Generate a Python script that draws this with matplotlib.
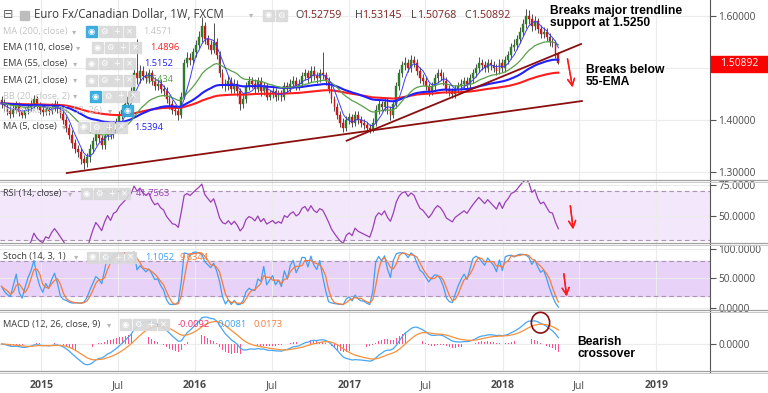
import numpy as np
import pandas as pd
import matplotlib
matplotlib.use('Agg')
import matplotlib.pyplot as plt
import matplotlib.dates as mdates
from matplotlib.patches import Rectangle, Ellipse
from matplotlib.lines import Line2D
from datetime import datetime

plt.rcParams['font.family'] = ['Open Sans', 'DejaVu Sans']

# weekly EUR/CAD candles (first open 1.438)
first_open = 1.438
closes = [
    1.432, 1.425, 1.418, 1.412, 1.420, 1.428, 1.415, 1.410, 1.418, 1.425,
    1.430, 1.440, 1.428, 1.420, 1.415, 1.422, 1.418, 1.425, 1.430, 1.422,
    1.412, 1.400, 1.385, 1.372, 1.355, 1.345, 1.338, 1.325, 1.318, 1.328,
    1.345, 1.360, 1.375, 1.365, 1.352, 1.370, 1.385, 1.372, 1.390, 1.395,
    1.410, 1.420, 1.430, 1.445, 1.455, 1.490, 1.480, 1.495, 1.485, 1.480,
    1.490, 1.475, 1.465, 1.470, 1.460, 1.455, 1.440, 1.430, 1.420, 1.418,
    1.410, 1.445, 1.510, 1.520, 1.515, 1.530, 1.545, 1.560, 1.580, 1.555,
    1.545, 1.535, 1.550, 1.525, 1.490, 1.470, 1.465, 1.475, 1.460, 1.470,
    1.455, 1.430, 1.440, 1.465, 1.475, 1.470, 1.460, 1.475, 1.455, 1.465,
    1.445, 1.450, 1.455, 1.445, 1.450, 1.445, 1.465, 1.460, 1.470, 1.475,
    1.465, 1.470, 1.485, 1.490, 1.480, 1.495, 1.485, 1.480, 1.490, 1.487,
    1.475, 1.460, 1.440, 1.425, 1.410, 1.395, 1.385, 1.400, 1.405, 1.395,
    1.410, 1.400, 1.395, 1.390, 1.385, 1.380, 1.395, 1.420, 1.430, 1.425,
    1.435, 1.420, 1.410, 1.430, 1.465, 1.490, 1.505, 1.510, 1.500, 1.515,
    1.510, 1.495, 1.480, 1.475, 1.465, 1.455, 1.465, 1.480, 1.490, 1.485,
    1.475, 1.460, 1.455, 1.450, 1.460, 1.465, 1.470, 1.475, 1.470, 1.480,
    1.490, 1.500, 1.510, 1.505, 1.500, 1.510, 1.505, 1.500, 1.495, 1.510,
    1.500, 1.515, 1.525, 1.540, 1.545, 1.555, 1.570, 1.585, 1.600, 1.595,
    1.580, 1.590, 1.575, 1.565, 1.570, 1.560, 1.550, 1.548, 1.5276, 1.50892,
]
highs = [
    1.446, 1.440, 1.433, 1.426, 1.428, 1.436, 1.434, 1.422, 1.425, 1.433,
    1.439, 1.449, 1.446, 1.434, 1.428, 1.431, 1.430, 1.433, 1.438, 1.437,
    1.428, 1.420, 1.407, 1.392, 1.380, 1.363, 1.352, 1.346, 1.333, 1.336,
    1.353, 1.368, 1.383, 1.382, 1.372, 1.378, 1.393, 1.392, 1.398, 1.404,
    1.418, 1.428, 1.438, 1.453, 1.464, 1.498, 1.555, 1.505, 1.503, 1.494,
    1.498, 1.497, 1.483, 1.478, 1.478, 1.468, 1.463, 1.448, 1.438, 1.428,
    1.425, 1.453, 1.518, 1.530, 1.528, 1.538, 1.553, 1.572, 1.598, 1.588,
    1.563, 1.553, 1.586, 1.557, 1.532, 1.498, 1.478, 1.484, 1.482, 1.478,
    1.477, 1.462, 1.448, 1.473, 1.484, 1.483, 1.478, 1.483, 1.482, 1.473,
    1.472, 1.458, 1.463, 1.462, 1.458, 1.457, 1.473, 1.474, 1.478, 1.484,
    1.483, 1.478, 1.493, 1.499, 1.497, 1.503, 1.503, 1.493, 1.498, 1.530,
    1.493, 1.482, 1.467, 1.447, 1.433, 1.417, 1.403, 1.408, 1.413, 1.412,
    1.418, 1.417, 1.407, 1.402, 1.397, 1.392, 1.403, 1.428, 1.438, 1.437,
    1.443, 1.442, 1.427, 1.438, 1.473, 1.498, 1.514, 1.522, 1.518, 1.525,
    1.523, 1.517, 1.502, 1.488, 1.483, 1.472, 1.473, 1.488, 1.499, 1.498,
    1.493, 1.482, 1.468, 1.462, 1.468, 1.473, 1.478, 1.483, 1.483, 1.488,
    1.498, 1.508, 1.522, 1.518, 1.513, 1.518, 1.518, 1.513, 1.508, 1.518,
    1.517, 1.523, 1.533, 1.548, 1.555, 1.563, 1.578, 1.595, 1.613, 1.611,
    1.603, 1.600, 1.597, 1.583, 1.578, 1.577, 1.568, 1.557, 1.553, 1.53145,
]
lows = [
    1.424, 1.417, 1.410, 1.404, 1.405, 1.413, 1.408, 1.403, 1.404, 1.412,
    1.418, 1.424, 1.421, 1.412, 1.407, 1.409, 1.410, 1.411, 1.418, 1.414,
    1.403, 1.392, 1.376, 1.364, 1.347, 1.336, 1.329, 1.316, 1.305, 1.310,
    1.320, 1.337, 1.352, 1.357, 1.344, 1.345, 1.362, 1.364, 1.365, 1.382,
    1.388, 1.402, 1.412, 1.422, 1.437, 1.448, 1.470, 1.472, 1.477, 1.471,
    1.472, 1.467, 1.457, 1.457, 1.452, 1.446, 1.432, 1.422, 1.412, 1.410,
    1.400, 1.403, 1.440, 1.502, 1.506, 1.508, 1.522, 1.538, 1.550, 1.547,
    1.536, 1.526, 1.528, 1.517, 1.482, 1.462, 1.456, 1.457, 1.452, 1.452,
    1.447, 1.420, 1.423, 1.433, 1.457, 1.462, 1.452, 1.453, 1.447, 1.448,
    1.438, 1.438, 1.443, 1.437, 1.438, 1.437, 1.438, 1.452, 1.453, 1.462,
    1.457, 1.457, 1.463, 1.477, 1.472, 1.473, 1.477, 1.472, 1.473, 1.478,
    1.467, 1.452, 1.432, 1.417, 1.402, 1.387, 1.377, 1.378, 1.392, 1.387,
    1.388, 1.392, 1.387, 1.382, 1.378, 1.375, 1.376, 1.388, 1.412, 1.417,
    1.418, 1.412, 1.400, 1.403, 1.423, 1.457, 1.482, 1.497, 1.492, 1.493,
    1.502, 1.487, 1.472, 1.467, 1.457, 1.447, 1.448, 1.458, 1.472, 1.477,
    1.467, 1.452, 1.447, 1.443, 1.443, 1.452, 1.457, 1.462, 1.462, 1.462,
    1.472, 1.482, 1.492, 1.497, 1.492, 1.492, 1.497, 1.492, 1.487, 1.488,
    1.492, 1.493, 1.507, 1.518, 1.532, 1.537, 1.548, 1.562, 1.577, 1.585,
    1.572, 1.573, 1.567, 1.557, 1.557, 1.552, 1.542, 1.540, 1.520, 1.50768,
]
opens = [first_open] + closes[:-1]
dates = pd.date_range('2014-09-28', periods=len(closes), freq='7D')

# two hand-drawn trendlines (start/end date, price)
trend1_dates = ['2015-03-02', '2018-07-08']
trend1_prices = [1.298, 1.4365]
trend2_dates = ['2016-12-26', '2018-07-06']
trend2_prices = [1.3602, 1.5462]

tick_dates = ['2015-01-01', '2015-07-01', '2016-01-01', '2016-07-01', '2017-01-01',
              '2017-07-01', '2018-01-01', '2018-07-01', '2019-01-01']
tick_labels = ['2015', 'Jul', '2016', 'Jul', '2017', 'Jul', '2018', 'Jul', '2019']

# indicators as listed in the chart legend
s = pd.Series(closes)
hs = pd.Series(highs)
ls = pd.Series(lows)
ema110 = s.ewm(span=110, adjust=False).mean()
ema55 = s.ewm(span=55, adjust=False).mean()
ema21 = s.ewm(span=21, adjust=False).mean()
ma5 = s.rolling(5, min_periods=1).mean()
delta = s.diff()
up = delta.clip(lower=0).ewm(alpha=1/14, adjust=False).mean()
dn = (-delta.clip(upper=0)).ewm(alpha=1/14, adjust=False).mean()
rsi = 100 - 100 / (1 + up / dn)
hh = hs.rolling(14, min_periods=1).max()
ll = ls.rolling(14, min_periods=1).min()
stoch_k = 100 * (s - ll) / (hh - ll)
stoch_d = stoch_k.rolling(3, min_periods=1).mean()
macd = s.ewm(span=12, adjust=False).mean() - s.ewm(span=26, adjust=False).mean()
signal = macd.ewm(span=9, adjust=False).mean()
hist = macd - signal

W, H = 768, 393
fig = plt.figure(figsize=(W / 100, H / 100), dpi=100)

def fx(x):
    return x / W

def fy(y):
    return 1 - y / H

def pane(top, bottom):
    ax = fig.add_axes([0, fy(bottom), fx(710), (bottom - top) / H])
    for side in ['top', 'left', 'bottom']:
        ax.spines[side].set_visible(False)
    ax.spines['right'].set_color('#555555')
    ax.yaxis.tick_right()
    ax.tick_params(axis='y', length=4, width=0.8, color='#555555', labelsize=7.3,
                   labelcolor='#4a4a4a', pad=2)
    ax.tick_params(axis='x', length=0, labelbottom=False)
    ax.set_xticks(mdates.date2num(pd.to_datetime(tick_dates)))
    ax.grid(True, color='#ececec', lw=0.8)
    ax.set_axisbelow(True)
    return ax

d0 = mdates.date2num(datetime(2015, 1, 1))
xlim = (d0 - 98.6, d0 + 1588.3)
xd = mdates.date2num(dates)

# main price pane
ax = pane(0, 181)
ax.set_xlim(xlim)
ax.set_ylim(1.2827, 1.6308)
ax.set_yticks([1.3, 1.4, 1.5, 1.6])
# the 1.50000 label sits under the last-price tag
ax.set_yticklabels(['1.30000', '1.40000', '', '1.60000'])
o = np.array(opens)
c = np.array(closes)
up_bar = c >= o
ax.vlines(xd, lows, highs, color='#4d4d4d', lw=0.7, zorder=2)
ax.bar(xd[up_bar], (c - o)[up_bar], bottom=o[up_bar], width=4.3, color='#2f7d2a',
       edgecolor='#2f7d2a', lw=0.3, zorder=3)
ax.bar(xd[~up_bar], (c - o)[~up_bar], bottom=o[~up_bar], width=4.3, color='#c8191b',
       edgecolor='#c8191b', lw=0.3, zorder=3)
ax.plot(xd, ema110, color='#ff1e1e', lw=1.5, zorder=4)
ax.plot(xd, ema55, color='#1f1fff', lw=1.5, zorder=4)
ax.plot(xd, ema21, color='#5aa04a', lw=0.9, zorder=4)
ax.plot(xd, ma5, color='#3c3cff', lw=0.7, zorder=4)
ax.plot(mdates.date2num(pd.to_datetime(trend1_dates)), trend1_prices, color='#8b0f0f', lw=1.3, zorder=5)
ax.plot(mdates.date2num(pd.to_datetime(trend2_dates)), trend2_prices, color='#8b0f0f', lw=1.3, zorder=5)

# RSI pane
ax_rsi = pane(181, 244)
ax_rsi.set_xlim(xlim)
ax_rsi.set_ylim(27, 78.3)
ax_rsi.set_yticks([50, 75])
ax_rsi.set_yticklabels(['50.0000', '75.0000'])
ax_rsi.axhspan(30, 70, color='#f3e7fb', zorder=0)
for lvl in [30, 70]:
    ax_rsi.axhline(lvl, color='#a896ac', lw=0.8, ls=(0, (4, 3)), zorder=1)
ax_rsi.plot(xd, rsi, color='#9a40b4', lw=0.9, zorder=3)

# Stoch pane
ax_st = pane(244, 311)
ax_st.set_xlim(xlim)
ax_st.set_ylim(-5.6, 108.5)
ax_st.set_yticks([0, 50, 100])
ax_st.set_yticklabels(['0.0000', '50.0000', '100.0000'])
ax_st.axhspan(20, 80, color='#e8d2f8', zorder=0)
for lvl in [20, 80]:
    ax_st.axhline(lvl, color='#a896ac', lw=0.8, ls=(0, (4, 3)), zorder=1)
ax_st.plot(xd, stoch_k, color='#3fa0f5', lw=0.9, zorder=3)
ax_st.plot(xd, stoch_d, color='#f57c3c', lw=0.9, zorder=3)

# MACD pane
ax_m = pane(311, 372)
ax_m.set_xlim(xlim)
peak = max(macd.max(), signal.max())
ax_m.set_ylim(-28 * peak / 27, 33 * peak / 27)
ax_m.set_yticks([0])
ax_m.set_yticklabels(['0.0000'])
ax_m.bar(xd, hist, width=1.8, color='#ff4f8f', zorder=2)
ax_m.plot(xd, macd, color='#47a6f5', lw=0.9, zorder=3)
ax_m.plot(xd, signal, color='#f7903d', lw=0.9, zorder=3)

# date axis
ax_m.tick_params(axis='x', labelbottom=True, labelsize=7.6, labelcolor='#4a4a4a', pad=6)
ax_m.set_xticklabels(tick_labels)
for lab in ax_m.get_xticklabels():
    if lab.get_text() != 'Jul':
        lab.set_fontweight('bold')

# pane separators
for y in [181, 244, 311, 372]:
    fig.add_artist(Line2D([0, 1], [fy(y - 1), fy(y - 1)], transform=fig.transFigure, color='#a0a0a0', lw=0.9))
    fig.add_artist(Line2D([0, 1], [fy(y + 1), fy(y + 1)], transform=fig.transFigure, color='#c8c8c8', lw=0.7))

# last price tag
fig.add_artist(Rectangle((fx(711), fy(72)), fx(768) - fx(711), 16 / H, transform=fig.transFigure,
                         color='#ff0000', zorder=10))
fig.text(fx(739.5), fy(64), '1.50892', color='white', fontsize=7.5, ha='center', va='center', zorder=11)

def icons(x, y, first_blue=False, n=4):
    glyphs = ['◉', '⚙', '+', '×']
    for k in range(n):
        col = '#2ea8dc' if (first_blue and k == 0) else '#d9d9d9'
        fig.add_artist(Rectangle((fx(x + k * 12.5), fy(y + 5.5)), 11 / W, 11 / H, transform=fig.transFigure,
                                 color=col, alpha=0.9, zorder=8))
        fig.text(fx(x + k * 12.5 + 5.5), fy(y), glyphs[k], color='white', fontsize=6,
                 ha='center', va='center', family='DejaVu Sans', zorder=9)

def legend_row(y, name, xdrop, xicon, faded=False, first_blue=False, n=4):
    col = '#c4c4c4' if faded else '#3c3c3c'
    fig.text(fx(3), fy(y), name, color=col, fontsize=6.7, ha='left', va='center', zorder=9)
    fig.text(fx(xdrop), fy(y), '▾', color='#b8b8b8', fontsize=6, ha='left', va='center',
             family='DejaVu Sans', zorder=9)
    icons(xicon, y, first_blue, n)

# title row
fig.text(fx(3), fy(15), '⊟', color='#666666', fontsize=9, ha='left', va='center', family='DejaVu Sans')
fig.add_artist(Rectangle((fx(20), fy(20)), 9 / W, 9 / H, transform=fig.transFigure, color='#bdbdbd'))
fig.text(fx(34), fy(15), 'Euro Fx/Canadian Dollar, 1W, FXCM', color='#3c3c3c', fontsize=8.3,
         ha='left', va='center')
fig.text(fx(249), fy(15), '▾', color='#b8b8b8', fontsize=6, ha='left', va='center', family='DejaVu Sans')
icons(263, 15, n=2)
for lx, vx, letter, val in [(295, 302, 'O', '1.52759'), (355, 362, 'H', '1.53145'),
                            (411, 417, 'L', '1.50768'), (464, 471, 'C', '1.50892')]:
    fig.text(fx(lx), fy(15), letter, color='#3c3c3c', fontsize=7.7, ha='left', va='center')
    fig.text(fx(vx), fy(15), val, color='#7e2020', fontsize=7.7, ha='left', va='center')

legend_row(31.5, 'MA (200, close)', 72, 86, faded=True, first_blue=True)
fig.text(fx(143), fy(31.5), '1.4571', color='#c4c4c4', fontsize=6.7, ha='left', va='center')
legend_row(47.5, 'EMA (110, close)', 76, 92)
fig.text(fx(150), fy(47.5), '1.4896', color='#ff1e1e', fontsize=6.7, ha='left', va='center')
legend_row(63.5, 'EMA (55, close)', 73, 86)
fig.text(fx(144), fy(63.5), '1.5152', color='#1f1fff', fontsize=6.7, ha='left', va='center')
legend_row(80, 'EMA (21, close)', 73, 86)
fig.text(fx(144), fy(80), '1.5434', color='#5aa04a', fontsize=6.7, ha='left', va='center')
legend_row(96, 'BB (20, close, 2)', 73, 90, faded=True, first_blue=True)
legend_row(110.5, 'Ichimoku (9, 26, 52, 26)', 108, 122, faded=True, first_blue=True, n=1)
legend_row(127, 'MA (5, close)', 62, 78)
fig.text(fx(134), fy(127), '1.5394', color='#1f1fff', fontsize=6.7, ha='left', va='center')

legend_row(193.7, 'RSI (14, close)', 68, 81)
fig.text(fx(136), fy(193.7), '41.7563', color='#9a40b4', fontsize=6.7, ha='left', va='center')
legend_row(257, 'Stoch (14, 3, 1)', 74, 87)
fig.text(fx(145), fy(257), '1.1052', color='#3fa0f5', fontsize=6.7, ha='left', va='center')
fig.text(fx(180), fy(257), '9.6344', color='#f57c3c', fontsize=6.7, ha='left', va='center')
legend_row(324.3, 'MACD (12, 26, close, 9)', 107, 120)
fig.text(fx(178), fy(324.3), '-0.0092', color='#f0306e', fontsize=6.7, ha='left', va='center')
fig.text(fx(218), fy(324.3), '0.0081', color='#3fa0f5', fontsize=6.7, ha='left', va='center')
fig.text(fx(253), fy(324.3), '0.0173', color='#f57c3c', fontsize=6.7, ha='left', va='center')

# annotations
ann = dict(color='black', fontsize=8.7, fontweight='bold', family='Liberation Sans',
           ha='left', va='top', linespacing=1.0, zorder=12)
fig.text(fx(550), fy(5), 'Breaks major trendline\nsupport at 1.5250', **ann)
fig.text(fx(586), fy(64), 'Breaks below\n55-EMA', **ann)
fig.text(fx(577), fy(336), 'Bearish\ncrossover', **ann)

arrow = dict(arrowstyle='->,head_length=0.5,head_width=0.25', color='#ff1a1a', lw=1.0)
for (x0, y0, x1, y1) in [(567, 56, 573, 90), (570, 203, 573.5, 232), (563.5, 271, 567, 299)]:
    fig.add_artist(plt.annotate('', xy=(x1, H - y1), xytext=(x0, H - y0),
                                xycoords='figure pixels', textcoords='figure pixels', arrowprops=arrow))

fig.add_artist(Ellipse((fx(540.5), fy(322.7)), 18.3 / W, 20.7 / H, transform=fig.transFigure,
                       fill=False, edgecolor='#8b0f0f', lw=1.2, zorder=12))

fig.savefig('out.png', dpi=100)
